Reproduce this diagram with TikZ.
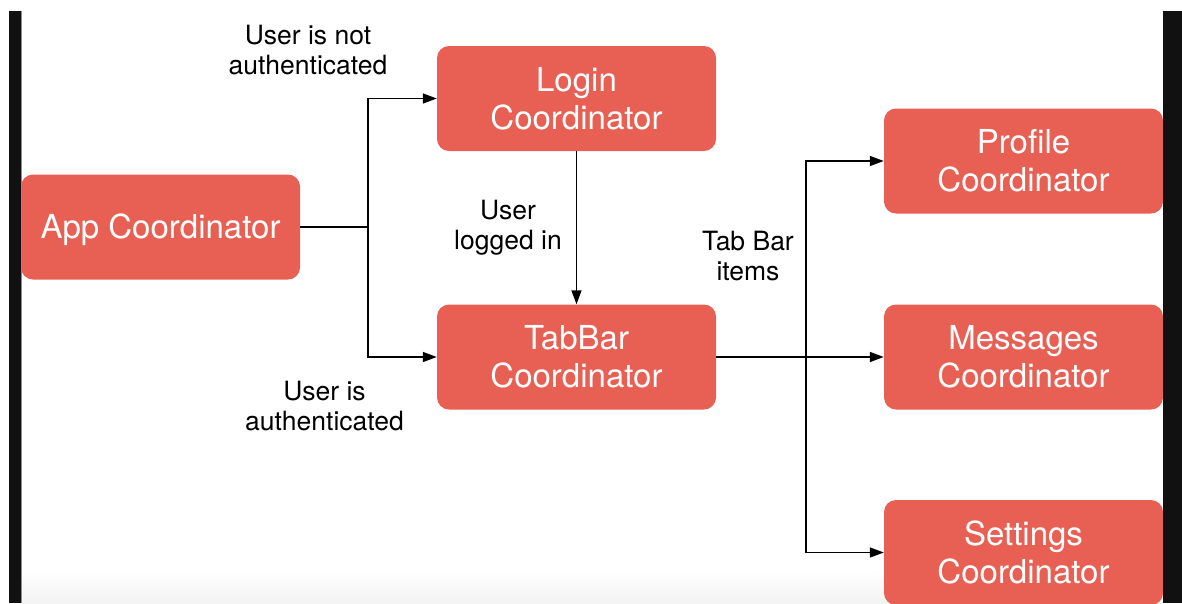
\documentclass[tikz,border=0pt]{standalone}
\usepackage{fontspec}
\setmainfont{TeX Gyre Heros}
\usetikzlibrary{arrows.meta}
\definecolor{boxred}{RGB}{232,96,84}
\definecolor{barblack}{RGB}{17,17,17}
\tikzset{
  coordbox/.style={draw=none, fill=boxred, rounded corners=12pt, minimum width=279pt, minimum height=105pt, text=white, align=center, inner sep=0pt, font=\fontsize{33}{38}\selectfont},
  lbl/.style={align=center, inner sep=0pt, text=black, font=\fontsize{26.5}{30}\selectfont},
  conn/.style={line width=1.5pt, draw=black},
  arr/.style={conn, -{Triangle[length=14pt,width=10pt]}}
}
\begin{document}
\begin{tikzpicture}[x=1pt,y=-1pt]
\useasboundingbox (0,0) rectangle (1182,603);
\fill[white] (0,0) rectangle (1182,603);
\shade[top color=white, bottom color=black!5] (21,572) rectangle (1163,603);

\node[coordbox, text depth=1pt] (app) at (160.5,227) {App Coordinator};
\node[coordbox] (login) at (576.5,98.5) {Login\\Coordinator};
\node[coordbox] (tabbar) at (576.5,357) {TabBar\\Coordinator};
\node[coordbox] (profile) at (1023.5,161) {Profile\\Coordinator};
\node[coordbox] (messages) at (1023.5,357) {Messages\\Coordinator};
\node[coordbox] (settings) at (1023.5,552.5) {Settings\\Coordinator};

\coordinate (j1) at (368,227);
\coordinate (j2) at (806,357);

\draw[conn] (app.east) -- (j1);
\draw[arr] (j1) |- (login.west);
\draw[arr] (j1) |- (tabbar.west);
\draw[arr] (login.south) -- (tabbar.north);
\draw[arr] (tabbar.east) -- (messages.west);
\draw[arr] (j2) |- (profile.west);
\draw[arr] (j2) |- (settings.west);

\node[lbl] (l1) at (308,50) {User is not\\authenticated};
\node[lbl] (l2) at (324.5,406) {User is\\authenticated};
\node[lbl] (l3) at (508,228) {User\\logged in};
\node[lbl] (l4) at (748,256) {Tab Bar\\items};

\fill[barblack] (9,11) rectangle (21,603);
\fill[barblack] (1163,11) rectangle (1182,603);
\fill[black!45] (21,11) rectangle (22,603);
\end{tikzpicture}
\end{document}
